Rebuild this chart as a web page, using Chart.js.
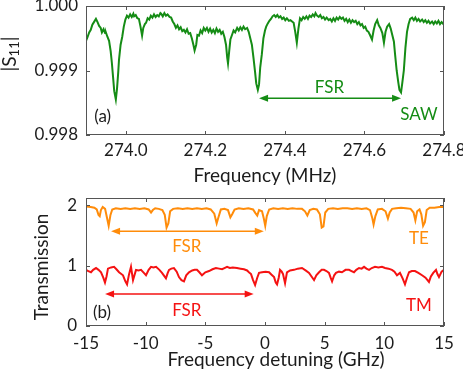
<!DOCTYPE html>
<html>
<head>
<meta charset="utf-8">
<script src="https://cdn.jsdelivr.net/npm/chart.js@4.4.1/dist/chart.umd.min.js"></script>
<style>
  body { margin: 0; background: #fff; }
  #wrap { position: relative; width: 463px; height: 373px; }
  canvas { position: absolute; left: 0; }
</style>
</head>
<body>
<div id="wrap">
  <canvas id="chart-saw" width="463" height="190" style="top:0"></canvas>
  <canvas id="chart-opt" width="463" height="183" style="top:190px"></canvas>
</div>
<script>
// (a) SAW reflection |S11| vs frequency (MHz)
var sawFreq = [
  273.900, 273.904, 273.908, 273.912, 273.916, 273.920, 273.925, 273.929, 273.933, 273.937,
  273.940, 273.944, 273.948, 273.950, 273.954, 273.958, 273.962, 273.965, 273.968, 273.971,
  273.975, 273.978, 273.981, 273.983, 273.987, 273.991, 273.995, 273.999, 274.003, 274.007,
  274.011, 274.015, 274.019, 274.021, 274.025, 274.029, 274.033, 274.037, 274.041, 274.044,
  274.048, 274.051, 274.055, 274.059, 274.063, 274.067, 274.071, 274.075, 274.079, 274.083,
  274.087, 274.089, 274.093, 274.097, 274.101, 274.105, 274.110, 274.114, 274.118, 274.122,
  274.126, 274.130, 274.134, 274.138, 274.142, 274.146, 274.150, 274.154, 274.158, 274.162,
  274.166, 274.170, 274.173, 274.177, 274.180, 274.184, 274.188, 274.192, 274.196, 274.200,
  274.204, 274.208, 274.212, 274.216, 274.220, 274.224, 274.228, 274.232, 274.236, 274.240,
  274.244, 274.248, 274.252, 274.255, 274.257, 274.260, 274.263, 274.267, 274.271, 274.275,
  274.280, 274.284, 274.288, 274.292, 274.296, 274.300, 274.305, 274.309, 274.313, 274.317,
  274.321, 274.325, 274.328, 274.332, 274.335, 274.338, 274.342, 274.346, 274.350, 274.353,
  274.357, 274.361, 274.365, 274.369, 274.373, 274.377, 274.381, 274.385, 274.389, 274.393,
  274.397, 274.401, 274.405, 274.410, 274.414, 274.418, 274.422, 274.426, 274.430, 274.434,
  274.438, 274.442, 274.446, 274.450, 274.454, 274.458, 274.462, 274.466, 274.470, 274.474,
  274.477, 274.481, 274.485, 274.489, 274.493, 274.497, 274.501, 274.505, 274.510, 274.514,
  274.518, 274.522, 274.526, 274.530, 274.534, 274.538, 274.542, 274.546, 274.550, 274.554,
  274.558, 274.562, 274.566, 274.570, 274.574, 274.578, 274.582, 274.586, 274.590, 274.594,
  274.598, 274.602, 274.606, 274.610, 274.614, 274.619, 274.623, 274.627, 274.632, 274.636,
  274.640, 274.645, 274.649, 274.653, 274.657, 274.662, 274.666, 274.670, 274.674, 274.677,
  274.681, 274.685, 274.688, 274.692, 274.695, 274.699, 274.703, 274.707, 274.711, 274.715,
  274.720, 274.724, 274.728, 274.732, 274.736, 274.740, 274.745, 274.749, 274.753, 274.757,
  274.761, 274.765, 274.770, 274.774, 274.778, 274.782, 274.786, 274.790, 274.794, 274.800
];
var sawS11 = [
  0.99946, 0.99952, 0.99959, 0.99963, 0.99971, 0.99975, 0.99980, 0.99975, 0.99969, 0.99966,
  0.99959, 0.99964, 0.99958, 0.99959, 0.99952, 0.99946, 0.99930, 0.99912, 0.99890, 0.99868,
  0.99855, 0.99872, 0.99897, 0.99917, 0.99940, 0.99952, 0.99968, 0.99979, 0.99985, 0.99982,
  0.99987, 0.99983, 0.99988, 0.99984, 0.99986, 0.99981, 0.99980, 0.99968, 0.99954, 0.99966,
  0.99972, 0.99974, 0.99981, 0.99979, 0.99985, 0.99982, 0.99987, 0.99983, 0.99986, 0.99984,
  0.99989, 0.99988, 0.99984, 0.99989, 0.99985, 0.99987, 0.99983, 0.99982, 0.99976, 0.99972,
  0.99966, 0.99970, 0.99964, 0.99967, 0.99961, 0.99963, 0.99959, 0.99964, 0.99957, 0.99958,
  0.99950, 0.99940, 0.99931, 0.99940, 0.99955, 0.99954, 0.99962, 0.99958, 0.99966, 0.99962,
  0.99966, 0.99960, 0.99965, 0.99959, 0.99963, 0.99958, 0.99965, 0.99960, 0.99963, 0.99957,
  0.99960, 0.99952, 0.99940, 0.99920, 0.99911, 0.99930, 0.99948, 0.99955, 0.99962, 0.99959,
  0.99966, 0.99962, 0.99967, 0.99963, 0.99968, 0.99964, 0.99966, 0.99960, 0.99950, 0.99940,
  0.99920, 0.99898, 0.99880, 0.99870, 0.99878, 0.99905, 0.99925, 0.99950, 0.99962, 0.99968,
  0.99973, 0.99977, 0.99980, 0.99984, 0.99986, 0.99983, 0.99986, 0.99982, 0.99984, 0.99980,
  0.99982, 0.99978, 0.99981, 0.99977, 0.99978, 0.99976, 0.99974, 0.99960, 0.99943, 0.99965,
  0.99981, 0.99978, 0.99983, 0.99980, 0.99984, 0.99980, 0.99985, 0.99983, 0.99987, 0.99984,
  0.99989, 0.99985, 0.99983, 0.99986, 0.99981, 0.99983, 0.99979, 0.99982, 0.99978, 0.99980,
  0.99976, 0.99981, 0.99977, 0.99982, 0.99979, 0.99983, 0.99980, 0.99982, 0.99977, 0.99980,
  0.99975, 0.99979, 0.99974, 0.99978, 0.99975, 0.99977, 0.99972, 0.99975, 0.99970, 0.99972,
  0.99966, 0.99968, 0.99962, 0.99960, 0.99955, 0.99948, 0.99962, 0.99972, 0.99978, 0.99970,
  0.99966, 0.99958, 0.99943, 0.99960, 0.99968, 0.99972, 0.99965, 0.99955, 0.99945, 0.99925,
  0.99900, 0.99882, 0.99870, 0.99866, 0.99880, 0.99900, 0.99935, 0.99960, 0.99972, 0.99980,
  0.99982, 0.99978, 0.99982, 0.99977, 0.99980, 0.99976, 0.99979, 0.99975, 0.99978, 0.99974,
  0.99977, 0.99973, 0.99976, 0.99972, 0.99976, 0.99973, 0.99977, 0.99972, 0.99975, 0.99971
];
var sawFreqTicks = [274.0, 274.2, 274.4, 274.6, 274.8];
var sawS11Ticks = [0.998, 0.999, 1.000];

// (b) optical transmission vs detuning (GHz), TE offset by +1
var teDetune = [
  -15.00, -14.60, -14.30, -14.10, -13.95, -13.85, -13.75, -13.60, -13.40, -13.25,
  -13.10, -12.95, -12.80, -12.50, -12.10, -11.70, -11.30, -10.90, -10.50, -10.10,
  -9.75, -9.55, -9.40, -9.20, -8.90, -8.60, -8.40, -8.25, -8.10, -7.95,
  -7.70, -7.30, -6.90, -6.50, -6.10, -5.70, -5.30, -4.90, -4.55, -4.25,
  -4.05, -3.90, -3.70, -3.40, -3.10, -2.90, -2.75, -2.55, -2.20, -1.80,
  -1.40, -1.00, -0.80, -0.65, -0.50, -0.25, -0.10, 0.02, 0.15, 0.35,
  0.70, 1.10, 1.50, 1.90, 2.30, 2.70, 3.10, 3.35, 3.55, 3.75,
  4.05, 4.35, 4.60, 4.75, 4.90, 5.05, 5.30, 5.70, 6.10, 6.50,
  6.90, 7.30, 7.70, 8.10, 8.50, 8.80, 9.00, 9.10, 9.25, 9.45,
  9.80, 10.10, 10.30, 10.45, 10.65, 11.00, 11.40, 11.80, 12.20, 12.45,
  12.60, 12.75, 12.95, 13.10, 13.25, 13.40, 13.55, 13.80, 14.20, 14.60,
  15.00
];
var teTrans = [
  1.98, 1.97, 1.96, 1.93, 1.84, 1.82, 1.92, 1.97, 1.94, 1.80,
  1.66, 1.84, 1.93, 1.95, 1.94, 1.95, 1.94, 1.95, 1.94, 1.95,
  1.93, 1.88, 1.92, 1.95, 1.94, 1.92, 1.84, 1.63, 1.70, 1.90,
  1.94, 1.95, 1.94, 1.95, 1.94, 1.95, 1.94, 1.95, 1.93, 1.86,
  1.70, 1.80, 1.93, 1.94, 1.92, 1.80, 1.85, 1.93, 1.95, 1.94,
  1.95, 1.93, 1.87, 1.83, 1.92, 1.90, 1.78, 1.66, 1.82, 1.93,
  1.95, 1.94, 1.95, 1.94, 1.95, 1.94, 1.94, 1.90, 1.83, 1.92,
  1.94, 1.93, 1.85, 1.63, 1.65, 1.88, 1.94, 1.95, 1.94, 1.95,
  1.95, 1.94, 1.95, 1.94, 1.95, 1.92, 1.78, 1.68, 1.82, 1.93,
  1.94, 1.90, 1.78, 1.88, 1.94, 1.95, 1.96, 1.95, 1.94, 1.88,
  1.75, 1.90, 1.93, 1.85, 1.66, 1.72, 1.92, 1.96, 1.96, 1.97,
  1.97
];
var tmDetune = [
  -15.00, -14.80, -14.58, -14.40, -14.16, -13.95, -13.74, -13.55, -13.41, -13.28,
  -13.16, -12.90, -12.65, -12.45, -12.23, -11.90, -11.70, -11.56, -11.40, -11.23,
  -11.06, -10.81, -10.60, -10.39, -10.15, -9.97, -9.75, -9.55, -9.35, -9.13,
  -8.85, -8.63, -8.45, -8.30, -8.15, -8.04, -7.85, -7.63, -7.40, -7.21,
  -7.00, -6.79, -6.60, -6.37, -6.10, -5.90, -5.70, -5.50, -5.28, -5.00,
  -4.69, -4.40, -4.11, -3.85, -3.60, -3.40, -3.18, -2.95, -2.70, -2.35,
  -2.05, -1.76, -1.50, -1.30, -1.17, -1.00, -0.83, -0.65, -0.50, -0.25,
  0.05, 0.34, 0.55, 0.76, 0.90, 1.01, 1.15, 1.26, 1.40, 1.51,
  1.68, 1.84, 2.10, 2.43, 2.75, 3.10, 3.40, 3.69, 3.90, 4.11,
  4.30, 4.53, 4.75, 4.94, 5.15, 5.36, 5.50, 5.62, 5.80, 5.95,
  6.20, 6.45, 6.75, 7.04, 7.25, 7.46, 7.65, 7.88, 8.10, 8.30,
  8.50, 8.72, 8.95, 9.22, 9.50, 9.80, 10.06, 10.35, 10.64, 10.85,
  11.06, 11.31, 11.55, 11.73, 11.90, 12.07, 12.30, 12.57, 12.85, 13.16,
  13.45, 13.74, 13.90, 14.10, 14.33, 14.45, 14.58, 14.80, 15.00
];
var tmTrans = [
  0.93, 0.91, 0.89, 0.93, 0.96, 0.93, 0.89, 0.80, 0.72, 0.82,
  0.95, 0.97, 0.98, 0.94, 0.89, 0.84, 0.74, 0.69, 0.85, 0.98,
  0.76, 0.93, 0.92, 0.93, 0.88, 0.84, 0.93, 0.98, 0.97, 0.98,
  0.93, 0.88, 0.83, 0.79, 0.88, 0.93, 0.95, 0.96, 0.90, 0.81,
  0.76, 0.74, 0.84, 0.89, 0.92, 0.93, 0.93, 0.89, 0.84, 0.89,
  0.91, 0.94, 0.96, 0.95, 0.94, 0.96, 0.98, 0.96, 0.97, 0.96,
  0.95, 0.94, 0.92, 0.88, 0.86, 0.76, 0.68, 0.80, 0.88, 0.89,
  0.90, 0.89, 0.85, 0.81, 0.72, 0.69, 0.80, 0.93, 0.90, 0.86,
  0.71, 0.89, 0.92, 0.93, 0.95, 0.96, 0.92, 0.88, 0.82, 0.76,
  0.84, 0.89, 0.93, 0.93, 0.91, 0.88, 0.80, 0.74, 0.84, 0.88,
  0.90, 0.89, 0.93, 0.93, 0.91, 0.89, 0.93, 0.96, 0.95, 0.98,
  0.95, 0.93, 0.96, 0.98, 0.97, 0.98, 0.96, 0.95, 0.93, 0.90,
  0.84, 0.88, 0.78, 0.69, 0.80, 0.89, 0.91, 0.91, 0.88, 0.84,
  0.80, 0.73, 0.82, 0.88, 0.93, 0.86, 0.81, 0.90, 0.93
];
var detuneTicks = [-15, -10, -5, 0, 5, 10, 15];
var transTicks = [0, 1, 2];

var GREEN = '#158c15', ORANGE = '#ff8c0a', RED = '#f51212';
var INK = '#1c1c1c', FRAME = '#555';
var FONT = 'Lato, "Open Sans", sans-serif';

function pts(xs, ys) {
  return xs.map(function (x, i) { return { x: x, y: ys[i] }; });
}

// frame box, inward ticks, arrows, in-plot labels and axis titles
var decor = {
  id: 'decor',
  afterDraw: function (chart, args, o) {
    var c = chart.ctx, a = chart.chartArea;
    var sx = chart.scales.x, sy = chart.scales.y;
    c.save();
    c.strokeStyle = FRAME;
    c.lineWidth = 1;
    c.strokeRect(a.left + 0.5, a.top + 0.5, a.right - a.left - 1, a.bottom - a.top - 1);
    c.beginPath();
    sx.ticks.forEach(function (t) {
      var px = Math.round(sx.getPixelForValue(t.value)) + 0.5;
      c.moveTo(px, a.bottom); c.lineTo(px, a.bottom - 4);
      c.moveTo(px, a.top); c.lineTo(px, a.top + 4);
    });
    sy.ticks.forEach(function (t) {
      var py = Math.round(sy.getPixelForValue(t.value)) + 0.5;
      c.moveTo(a.left, py); c.lineTo(a.left + 4, py);
      c.moveTo(a.right, py); c.lineTo(a.right - 4, py);
    });
    c.stroke();

    (o.arrows || []).forEach(function (ar) {
      var x1 = sx.getPixelForValue(ar.from), x2 = sx.getPixelForValue(ar.to);
      var y = sy.getPixelForValue(ar.y);
      c.strokeStyle = ar.color; c.fillStyle = ar.color; c.lineWidth = 1.6;
      c.beginPath(); c.moveTo(x1 + 6, y); c.lineTo(x2 - 6, y); c.stroke();
      c.beginPath(); c.moveTo(x1, y); c.lineTo(x1 + 9, y - 3.5); c.lineTo(x1 + 9, y + 3.5); c.closePath(); c.fill();
      c.beginPath(); c.moveTo(x2, y); c.lineTo(x2 - 9, y - 3.5); c.lineTo(x2 - 9, y + 3.5); c.closePath(); c.fill();
    });

    c.font = '17px ' + FONT;
    c.textAlign = 'center';
    c.textBaseline = 'middle';
    (o.labels || []).forEach(function (lb) {
      c.fillStyle = lb.color;
      c.fillText(lb.text, sx.getPixelForValue(lb.x), sy.getPixelForValue(lb.y));
    });

    c.fillStyle = INK;
    c.font = '19px ' + FONT;
    if (o.xTitle) c.fillText(o.xTitle.text, o.xTitle.x, o.xTitle.y);
    if (o.yTitle) {
      c.save();
      c.translate(o.yTitle.x, o.yTitle.y);
      c.rotate(-Math.PI / 2);
      var parts = o.yTitle.parts;
      var widths = parts.map(function (p) {
        c.font = (p.sub ? '13px ' : '19px ') + FONT;
        return c.measureText(p.t).width;
      });
      var total = widths.reduce(function (s, w) { return s + w; }, 0);
      var cx = -total / 2;
      c.textAlign = 'left';
      parts.forEach(function (p, i) {
        c.font = (p.sub ? '13px ' : '19px ') + FONT;
        c.fillText(p.t, cx, p.sub ? 5 : 0);
        cx += widths[i];
      });
      c.restore();
    }
    c.restore();
  }
};

function fixAxis(size, horizontal) {
  return function (s) {
    if (horizontal) { s.height = size; s.paddingLeft = 0; s.paddingRight = 0; }
    else { s.width = size; s.paddingTop = 0; s.paddingBottom = 0; }
  };
}

function setTicks(list) {
  return function (s) { s.ticks = list.map(function (v) { return { value: v }; }); };
}

var tickFont = { family: FONT, size: 17 };
var noGrid = { display: false, drawTicks: false };

new Chart(document.getElementById('chart-saw'), {
  type: 'line',
  data: {
    datasets: [{
      data: pts(sawFreq, sawS11),
      borderColor: GREEN,
      borderWidth: 2,
      pointRadius: 0,
      tension: 0
    }]
  },
  plugins: [decor],
  options: {
    responsive: false,
    animation: false,
    layout: { padding: { top: 6, right: 19, left: 0, bottom: 0 } },
    plugins: {
      legend: { display: false },
      tooltip: { enabled: false },
      decor: {
        arrows: [{ from: 274.335, to: 274.692, y: 0.99857, color: GREEN }],
        labels: [
          { text: 'FSR', x: 274.512, y: 0.99874, color: GREEN },
          { text: 'SAW', x: 274.737, y: 0.99831, color: GREEN },
          { text: '(a)', x: 273.942, y: 0.99828, color: INK }
        ],
        xTitle: { text: 'Frequency (MHz)', x: 265, y: 176 },
        yTitle: { x: 10, y: 54, parts: [{ t: '|S' }, { t: '11', sub: true }, { t: '|' }] }
      }
    },
    scales: {
      x: {
        type: 'linear',
        min: 273.9,
        max: 274.8,
        afterBuildTicks: setTicks(sawFreqTicks),
        afterFit: fixAxis(55, true),
        grid: noGrid,
        border: { display: false },
        ticks: {
          color: INK, font: tickFont, padding: 5, maxRotation: 0,
          callback: function (v) { return v.toFixed(1); }
        }
      },
      y: {
        min: 0.998,
        max: 1.000,
        afterBuildTicks: setTicks(sawS11Ticks),
        afterFit: fixAxis(86, false),
        grid: noGrid,
        border: { display: false },
        ticks: {
          color: INK, font: tickFont, padding: 8,
          callback: function (v) { return v.toFixed(3); }
        }
      }
    }
  }
});

new Chart(document.getElementById('chart-opt'), {
  type: 'line',
  data: {
    datasets: [
      { label: 'TE', data: pts(teDetune, teTrans), borderColor: ORANGE, borderWidth: 2, pointRadius: 0, tension: 0 },
      { label: 'TM', data: pts(tmDetune, tmTrans), borderColor: RED, borderWidth: 2, pointRadius: 0, tension: 0 }
    ]
  },
  plugins: [decor],
  options: {
    responsive: false,
    animation: false,
    layout: { padding: { top: 8, right: 19, left: 0, bottom: 0 } },
    plugins: {
      legend: { display: false },
      tooltip: { enabled: false },
      decor: {
        arrows: [
          { from: -12.9, to: -0.1, y: 1.57, color: ORANGE },
          { from: -13.4, to: -0.95, y: 0.53, color: RED }
        ],
        labels: [
          { text: 'FSR', x: -6.55, y: 1.31, color: ORANGE },
          { text: 'TE', x: 12.9, y: 1.45, color: ORANGE },
          { text: 'FSR', x: -6.55, y: 0.26, color: RED },
          { text: 'TM', x: 12.9, y: 0.34, color: RED },
          { text: '(b)', x: -13.65, y: 0.23, color: INK }
        ],
        xTitle: { text: 'Frequency detuning (GHz)', x: 276, y: 170 },
        yTitle: { x: 42, y: 77, parts: [{ t: 'Transmission' }] }
      }
    },
    scales: {
      x: {
        type: 'linear',
        min: -15,
        max: 15,
        afterBuildTicks: setTicks(detuneTicks),
        afterFit: fixAxis(47, true),
        grid: noGrid,
        border: { display: false },
        ticks: { color: INK, font: tickFont, padding: 7, maxRotation: 0 }
      },
      y: {
        min: 0,
        max: 2.12,
        afterBuildTicks: setTicks(transTicks),
        afterFit: fixAxis(86, false),
        grid: noGrid,
        border: { display: false },
        ticks: { color: INK, font: tickFont, padding: 9 }
      }
    }
  }
});
</script>
</body>
</html>
